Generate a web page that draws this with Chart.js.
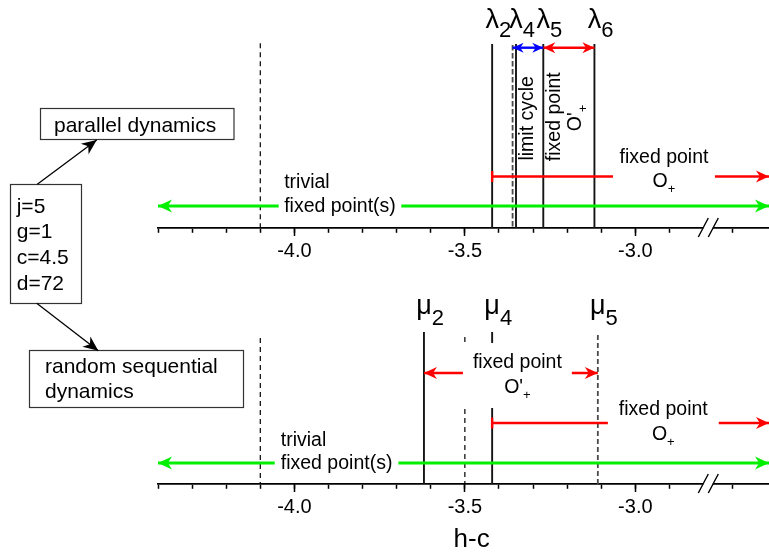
<!DOCTYPE html>
<html>
<head>
<meta charset="utf-8">
<title>h-c diagram</title>
<script src="https://cdn.jsdelivr.net/npm/chart.js@4.4.1/dist/chart.umd.min.js"></script>
<style>
  html, body { margin: 0; padding: 0; background: #fff; }
  canvas { display: block; }
</style>
</head>
<body>
<canvas id="myChart" width="769" height="556"></canvas>
<script>
const FONT = '"Liberation Sans", Arial, sans-serif';

// shared h-c axis
const axisMin = -4.4;
const axisMax = -2.608;
const minorTicks = [-4.4, -4.3, -4.2, -4.1, -4.0, -3.9, -3.8, -3.7, -3.6, -3.5, -3.4, -3.3, -3.2, -3.1, -3.0, -2.9, -2.715];
const majorTicks = [-4.0, -3.5, -3.0];
const breakAt = -2.786;

// parallel dynamics (upper panel)
const lambdaNames = ['2', '4', '5', '6'];
const lambdaValues = [-3.42, -3.35, -3.27, -3.12];
const lambda4Dashed = -3.36;

// random sequential dynamics (lower panel)
const muNames = ['2', '4', '5'];
const muValues = [-3.62, -3.42, -3.11];
const midDashed = -3.5;

// dashed line in both panels
const trivialEdge = -4.1;

const params = ['j=5', 'g=1', 'c=4.5', 'd=72'];

// vertical layout (y scale runs 0..556 top to bottom)
const TOP = { axis: 228, lineTop: 44, rangeY: 47.7, oPlusY: 176.5, trivialY: 206 };
const BOT = { axis: 484, lineTop: 332, oPrimeY: 373, oPlusY: 423, trivialY: 463 };

const green = '#00f000';
const red = '#ff0000';
const blue = '#0000ff';

const solid = { borderColor: '#151515', borderWidth: 1.9 };
const fineDash = { borderColor: '#000', borderWidth: 1.2, borderDash: [5, 4] };
const greyDash = { borderColor: '#4a4a4a', borderWidth: 1.8, borderDash: [5.5, 2.5] };

function vline(x, y0, y1, style) {
    return Object.assign({ data: [{ x: x, y: y0 }, { x: x, y: y1 }], pointRadius: 0, clip: false }, style);
}

function arrow(x0, x1, y, color, width, heads, headLen, bar) {
    return {
        data: [{ x: x0, y: y }, { x: x1, y: y }],
        borderColor: color, borderWidth: width, pointRadius: 0, clip: false,
        heads: heads, headLen: headLen, bar: bar
    };
}

const datasets = [
    // arrows on top
    arrow(axisMin, axisMax, TOP.trivialY, green, 2.8, 'both', 14),
    arrow(axisMin, axisMax, BOT.trivialY, green, 2.8, 'both', 14),
    arrow(lambdaValues[0], axisMax, TOP.oPlusY, red, 2.4, 'end', 13, true),
    arrow(muValues[1], axisMax, BOT.oPlusY, red, 2.4, 'end', 13, true),
    arrow(lambda4Dashed, lambdaValues[2], TOP.rangeY, blue, 2.4, 'both', 11),
    arrow(lambdaValues[2], lambdaValues[3], TOP.rangeY, red, 2.4, 'both', 12),
    arrow(muValues[0], muValues[2], BOT.oPrimeY, red, 2.4, 'both', 13),
    // upper panel lines
    vline(trivialEdge, 43.3, TOP.axis, fineDash),
    vline(lambda4Dashed, 45, TOP.axis, greyDash),
    ...lambdaValues.map(v => vline(v, TOP.lineTop, TOP.axis, solid)),
    // lower panel lines
    vline(trivialEdge, 338, BOT.axis, fineDash),
    vline(midDashed, 337, BOT.axis, fineDash),
    vline(muValues[0], BOT.lineTop, BOT.axis, solid),
    vline(muValues[1], BOT.lineTop, BOT.axis, solid),
    vline(muValues[2], 335, BOT.axis, Object.assign({}, greyDash, { borderDash: [5, 3] }))
];

// text placed in the plot (x in h-c units, y in layout units)
const textLabels = [
    { x: -4.03, align: 'left', base: [187.7, 211.7], box: [170, 218], pad: 5.5,
      lines: [[{ t: 'trivial' }], [{ t: 'fixed point(s)' }]] },
    { x: -4.04, align: 'left', base: [445.7, 469.3], box: [428, 476], pad: 6,
      lines: [[{ t: 'trivial' }], [{ t: 'fixed point(s)' }]] },
    { x: -2.916, align: 'center', base: [163.3, 187.3], box: [146, 194], pad: 6.5,
      lines: [[{ t: 'fixed point' }], [{ t: 'O' }, { t: '+', sub: true }]] },
    { x: -3.346, align: 'center', base: [368.3, 393.3], box: [343, 408], pad: 10,
      lines: [[{ t: 'fixed point' }], [{ t: "O'" }, { t: '+', sub: true }]] },
    { x: -2.918, align: 'center', base: [415, 440], box: [398, 447], pad: 11,
      lines: [[{ t: 'fixed point' }], [{ t: 'O' }, { t: '+', sub: true }]] }
];

const rotatedLabels = [
    { x: -3.299, y: 118.3, parts: [{ t: 'limit cycle' }] },
    { x: -3.221, y: 116.7, parts: [{ t: 'fixed point' }] },
    { x: -3.158, y: 118, parts: [{ t: "O'" }, { t: '+', sub: true }] }
];

const TEXT_SIZE = 19.5;
const SUB_SIZE = 13;

function partFont(p) {
    return (p.sub ? SUB_SIZE : (p.size || TEXT_SIZE)) + 'px ' + FONT;
}

function richWidth(ctx, parts) {
    let w = 0;
    parts.forEach(p => { ctx.font = partFont(p); w += ctx.measureText(p.t).width; });
    return w;
}

function drawRich(ctx, parts, x, y) {
    let cx = x;
    parts.forEach(p => {
        ctx.font = partFont(p);
        ctx.fillText(p.t, cx, y + (p.sub ? 6 : 0));
        cx += ctx.measureText(p.t).width;
    });
}

function head(ctx, x, y, angle, len, half, color) {
    ctx.save();
    ctx.translate(x, y);
    ctx.rotate(angle);
    ctx.beginPath();
    ctx.moveTo(0, 0);
    ctx.lineTo(-len, -half);
    ctx.lineTo(-len * 0.7, 0);
    ctx.lineTo(-len, half);
    ctx.closePath();
    ctx.fillStyle = color;
    ctx.fill();
    ctx.restore();
}

function connector(ctx, x0, y0, x1, y1) {
    ctx.strokeStyle = '#000';
    ctx.lineWidth = 1.3;
    ctx.beginPath();
    ctx.moveTo(x0, y0);
    ctx.lineTo(x1, y1);
    ctx.stroke();
    head(ctx, x1, y1, Math.atan2(y1 - y0, x1 - x0), 15, 6.5, '#000');
}

function symbolLabel(ctx, sym, sub, x, y, subDy) {
    ctx.font = '27px ' + FONT;
    const w = ctx.measureText(sym).width;
    ctx.fillText(sym, x - w / 2, y);
    ctx.font = '22px ' + FONT;
    ctx.fillText(sub, x + w / 2, y + subDy);
}

const overlay = {
    id: 'overlay',
    afterDatasetsDraw(chart) {
        const ctx = chart.ctx;
        const xs = chart.scales.x;
        const ys = chart.scales.y;
        const px = v => xs.getPixelForValue(v);
        const py = v => ys.getPixelForValue(v);
        ctx.save();
        ctx.textBaseline = 'alphabetic';
        ctx.textAlign = 'left';

        // arrow heads and start bars
        chart.data.datasets.forEach((ds, i) => {
            if (!ds.heads) return;
            const pts = chart.getDatasetMeta(i).data;
            const a = pts[0];
            const b = pts[pts.length - 1];
            const len = ds.headLen;
            const half = len * 0.46;
            head(ctx, b.x, b.y, 0, len, half, ds.borderColor);
            if (ds.heads === 'both') head(ctx, a.x, a.y, Math.PI, len, half, ds.borderColor);
            if (ds.bar) {
                ctx.strokeStyle = ds.borderColor;
                ctx.lineWidth = ds.borderWidth;
                ctx.beginPath();
                ctx.moveTo(a.x, a.y - 5.5);
                ctx.lineTo(a.x, a.y + 5.5);
                ctx.stroke();
            }
        });

        // labels with white backgrounds
        ctx.fillStyle = '#000';
        textLabels.forEach(l => {
            const x = px(l.x);
            const widths = l.lines.map(parts => richWidth(ctx, parts));
            const maxW = Math.max(...widths);
            const left = l.align === 'left' ? x : x - maxW / 2;
            ctx.fillStyle = '#fff';
            ctx.fillRect(left - l.pad, py(l.box[0]), maxW + 2 * l.pad, py(l.box[1]) - py(l.box[0]));
            ctx.fillStyle = '#000';
            l.lines.forEach((parts, k) => {
                const sx = l.align === 'left' ? x : x - widths[k] / 2;
                drawRich(ctx, parts, sx, py(l.base[k]));
            });
        });

        // vertical labels between the lambda lines
        rotatedLabels.forEach(l => {
            const w = richWidth(ctx, l.parts);
            ctx.save();
            ctx.translate(px(l.x), py(l.y));
            ctx.rotate(-Math.PI / 2);
            drawRich(ctx, l.parts, -w / 2, 0);
            ctx.restore();
        });

        // lambda and mu names
        lambdaValues.forEach((v, i) => symbolLabel(ctx, '\u03bb', lambdaNames[i], px(v), py(28.3), 8.4));
        muValues.forEach((v, i) => symbolLabel(ctx, '\u03bc', muNames[i], px(v), py(314), 11));

        // axis breaks
        [TOP.axis, BOT.axis].forEach(a => {
            const cx = px(breakAt);
            const cy = py(a);
            ctx.fillStyle = '#fff';
            ctx.fillRect(cx - 5, cy - 2, 9.5, 4);
            ctx.strokeStyle = '#000';
            ctx.lineWidth = 1.4;
            ctx.beginPath();
            ctx.moveTo(cx - 10, cy + 9);
            ctx.lineTo(cx, cy - 10);
            ctx.moveTo(cx, cy + 9);
            ctx.lineTo(cx + 10, cy - 10);
            ctx.stroke();
        });

        // axis title
        ctx.fillStyle = '#000';
        ctx.font = '26px ' + FONT;
        ctx.textAlign = 'center';
        ctx.textBaseline = 'middle';
        ctx.fillText('h-c', px(-3.48), py(540));

        // side annotations
        ctx.textAlign = 'left';
        ctx.textBaseline = 'alphabetic';
        ctx.strokeStyle = '#333';
        ctx.lineWidth = 1.2;
        ctx.strokeRect(40.5, 108.5, 193.5, 31);
        ctx.strokeRect(10.5, 184.5, 71, 119);
        ctx.strokeRect(29.5, 350.5, 214, 57);
        ctx.font = '21px ' + FONT;
        ctx.fillText('parallel dynamics', 54, 131.7);
        params.forEach((p, i) => ctx.fillText(p, 16.7, 212.5 + i * 25.7));
        ctx.fillText('random sequential', 45, 373.3);
        ctx.fillText('dynamics', 45, 398);
        connector(ctx, 37.3, 184.3, 96.7, 140);
        connector(ctx, 36.7, 303.3, 98.3, 350.7);

        ctx.restore();
    }
};

function xAxis(yPos, ticks, major) {
    return {
        type: 'linear',
        axis: 'x',
        min: axisMin,
        max: axisMax,
        position: { y: yPos },
        afterBuildTicks: s => { s.ticks = ticks.map(v => ({ value: v })); },
        grid: { drawOnChartArea: false, drawTicks: true, tickLength: major ? 8 : 4, tickWidth: 1.5, tickColor: '#000' },
        border: { display: !major, color: '#000', width: 1.8 },
        ticks: {
            display: major, autoSkip: false, maxRotation: 0, padding: 3, color: '#000',
            font: { family: FONT, size: 20 },
            callback: v => v.toFixed(1)
        }
    };
}

const chart = new Chart(document.getElementById('myChart'), {
    type: 'line',
    data: { datasets: datasets },
    options: {
        responsive: false,
        animation: false,
        events: [],
        layout: { padding: { left: 158, right: 0, top: 0, bottom: 0 } },
        plugins: { legend: { display: false }, tooltip: { enabled: false } },
        elements: { point: { radius: 0 }, line: { tension: 0, borderCapStyle: 'butt' } },
        scales: {
            y: { type: 'linear', min: 0, max: 556, reverse: true, display: false },
            x: xAxis(BOT.axis, minorTicks, false),
            xMajor: xAxis(BOT.axis, majorTicks, true),
            xTop: xAxis(TOP.axis, minorTicks, false),
            xTopMajor: xAxis(TOP.axis, majorTicks, true)
        }
    },
    plugins: [overlay]
});
</script>
</body>
</html>
